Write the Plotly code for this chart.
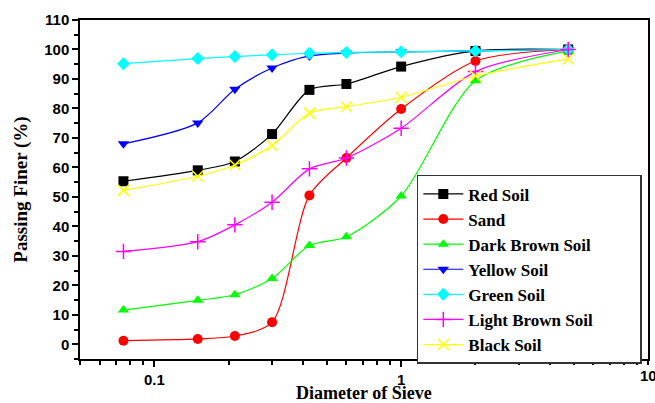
import plotly.graph_objects as go

sieve = [0.075, 0.15, 0.212, 0.3, 0.425, 0.6, 1.0, 2.0, 4.75]
red_soil = [55.3, 59.0, 62.0, 71.3, 86.3, 88.3, 94.2, 99.5, 100.0]
sand = [1.2, 1.8, 2.8, 7.5, 50.5, 63.2, 79.8, 96.1, 100.0]
dark_brown = [11.6, 14.9, 16.8, 22.3, 33.5, 36.5, 50.3, 89.4, 99.5]
yellow_soil = [68.0, 75.1, 86.5, 93.7, 97.8, 98.8, 99.2, 99.5, 100.0]
green_soil = [95.2, 96.9, 97.6, 98.2, 98.7, 99.0, 99.2, 99.5, 100.0]
light_brown = [31.5, 34.8, 40.5, 48.2, 59.5, 63.2, 73.3, 92.5, 100.0]
black_soil = [52.2, 57.0, 60.8, 67.4, 78.4, 80.6, 83.8, 91.0, 96.8]

x_tick_vals = [0.1, 1]
x_tick_text = ["0.1", "1"]
x_end_label = "10"
y_tick_vals = [0, 10, 20, 30, 40, 50, 60, 70, 80, 90, 100, 110]

series = [
    ("Red Soil", red_soil, "#000000", "square"),
    ("Sand", sand, "#ff0000", "circle"),
    ("Dark Brown Soil", dark_brown, "#00ff00", "triangle-up"),
    ("Yellow Soil", yellow_soil, "#0000ff", "triangle-down"),
    ("Green Soil", green_soil, "#00ffff", "diamond"),
    ("Light Brown Soil", light_brown, "#ff00ff", "cross-thin"),
    ("Black Soil", black_soil, "#ffff00", "x-thin"),
]

PAD = "\u00a0" * 10  # widens the legend box to the reference's size

fig = go.Figure()
for name, vals, color, sym in series:
    thin = sym.endswith("thin")
    fig.add_trace(go.Scatter(
        x=sieve, y=vals, name="<b>" + name + "</b>" + PAD, mode="lines+markers",
        line=dict(color=color, width=1.2, shape="spline", smoothing=0.8),
        marker=dict(symbol=sym, size=11 if thin else 10, color=color,
                    line=dict(color=color, width=1.5 if thin else 0)),
    ))

fig.update_layout(
    width=655, height=403,
    margin=dict(l=80, r=7, t=20, b=44),
    paper_bgcolor="white", plot_bgcolor="white",
    showlegend=True,
    legend=dict(
        x=0.593, y=0.543, xanchor="left", yanchor="top",
        bordercolor="#333333", borderwidth=1.5, bgcolor="white",
        font=dict(family="Liberation Serif", size=17, color="black"),
        itemwidth=40, tracegroupgap=0,
    ),
    annotations=[
        dict(text="<b>" + x_end_label + "</b>", xref="x", x=1.0, yref="paper", y=0,
             yanchor="top", yshift=-6, showarrow=False,
             font=dict(family="Liberation Sans", size=15, color="black")),
        dict(text="<b>Diameter of Sieve</b>", xref="paper", x=0.5, yref="paper", y=0,
             yanchor="top", yshift=-22, showarrow=False,
             font=dict(family="Liberation Serif", size=18, color="black")),
    ],
)
fig.update_xaxes(
    type="log", range=[-1.301, 1.0], automargin=False,
    showline=True, linecolor="black", linewidth=1.5, mirror=True,
    ticks="outside", ticklen=6, tickwidth=1.5, tickcolor="black",
    tickmode="array", tickvals=x_tick_vals,
    ticktext=["<b>" + t + "</b>" for t in x_tick_text],
    showgrid=False, zeroline=False,
    minor=dict(ticks="outside", ticklen=4, tickcolor="black", dtick="D1", showgrid=False),
    tickfont=dict(family="Liberation Sans", size=15, color="black"),
)
fig.update_yaxes(
    range=[-5, 110], automargin=False,
    showline=True, linecolor="black", linewidth=1.5, mirror=True,
    ticks="outside", ticklen=6, tickwidth=1.5, tickcolor="black",
    tickmode="array", tickvals=y_tick_vals,
    ticktext=["<b>%d</b>" % v for v in y_tick_vals],
    showgrid=False, zeroline=False,
    minor=dict(ticks="outside", ticklen=4, tickcolor="black", dtick=5, showgrid=False),
    tickfont=dict(family="Liberation Sans", size=15, color="black"),
    title=dict(text="<b>Passing Finer (%)</b>", standoff=12,
               font=dict(family="Liberation Serif", size=19, color="black")),
)

fig.write_html("out.html", config={"displayModeBar": False},
               post_script="document.body.style.margin='0';")
